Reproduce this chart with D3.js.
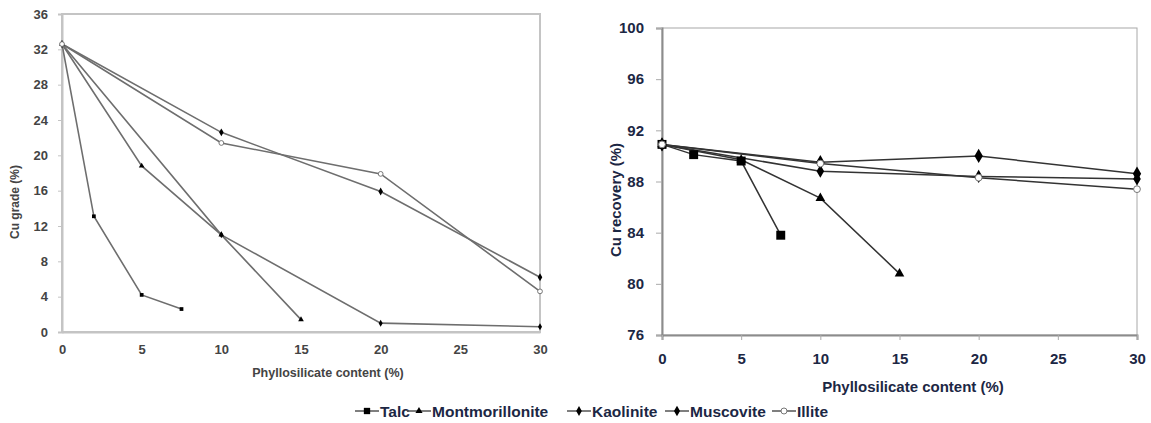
<!DOCTYPE html>
<html>
<head>
<meta charset="utf-8">
<script src="https://cdn.jsdelivr.net/npm/d3@7"></script>
<style>
  html, body { margin: 0; padding: 0; background: #fff; }
  svg { display: block; }
</style>
</head>
<body>
<svg id="chart" width="1151" height="423"></svg>
<script>
// ---------- data ----------
const seriesNames = ["Talc", "Montmorillonite", "Kaolinite", "Muscovite", "Illite"];
const xTalc = [0, 2, 5, 7.5];
const xMont = [0, 5, 10, 15];
const xKao  = [0, 10, 20, 30];
const xMus  = [0, 10, 20, 30];
const xIll  = [0, 10, 20, 30];

const gradeTalc = [32.6, 13.1, 4.2, 2.6];
const gradeMont = [32.6, 18.8, 11.0, 1.4];
const gradeKao  = [32.6, 11.0, 1.0, 0.6];
const gradeMus  = [32.6, 22.6, 15.9, 6.2];
const gradeIll  = [32.6, 21.4, 17.9, 4.6];

const recTalc = [90.9, 90.1, 89.6, 83.8];
const recMont = [90.9, 89.7, 86.7, 80.8];
const recKao  = [90.9, 88.8, 88.4, 88.2];
const recMus  = [90.9, 89.5, 90.0, 88.6];
const recIll  = [90.9, 89.4, 88.3, 87.4];

const xTicks = [0, 5, 10, 15, 20, 25, 30];
const gradeTicks = [0, 4, 8, 12, 16, 20, 24, 28, 32, 36];
const recTicks = [76, 80, 84, 88, 92, 96, 100];

const xs = [xTalc, xMont, xKao, xMus, xIll];
const grades = [gradeTalc, gradeMont, gradeKao, gradeMus, gradeIll];
const recs = [recTalc, recMont, recKao, recMus, recIll];

// ---------- styles ----------
const symbolTypes = [d3.symbolSquare, d3.symbolTriangle, d3.symbolDiamond, d3.symbolDiamond, d3.symbolCircle];
const symbolSizesR = [80, 40, 50, 60, 36];
const symbolSizesL = [14, 14, 14, 18, 18];
const navy = "#1c2744";

const svg = d3.select("#chart");

function makeSeries(g, x, y, sizes, lineColor, lineW, yData) {
  seriesNames.forEach((name, i) => {
    const pts = xs[i].map((xv, j) => [xv, yData[i][j]]);
    g.append("path")
      .datum(pts)
      .attr("fill", "none")
      .attr("stroke", lineColor)
      .attr("stroke-width", lineW)
      .attr("d", d3.line().x(d => x(d[0])).y(d => y(d[1])));
  });
  seriesNames.forEach((name, i) => {
    const pts = xs[i].map((xv, j) => [xv, yData[i][j]]);
    const open = name === "Illite";
    g.selectAll(null).data(pts).enter().append("path")
      .attr("transform", d => `translate(${x(d[0])},${y(d[1])})`)
      .attr("d", d3.symbol().type(symbolTypes[i]).size(sizes[i]))
      .attr("fill", open ? "#fff" : "#000")
      .attr("stroke", open ? "#777" : "none")
      .attr("stroke-width", 1);
  });
}

// ---------- left panel ----------
{
  const x = d3.scaleLinear().domain([0, 30]).range([62, 540]);
  const y = d3.scaleLinear().domain([0, 36]).range([332, 14]);
  const g = svg.append("g");
  g.append("rect").attr("x", 62).attr("y", 14).attr("width", 478).attr("height", 318)
    .attr("fill", "none").attr("stroke", "#c4c4c4").attr("stroke-width", 2);

  const ya = g.append("g").attr("transform", "translate(62,0)")
    .call(d3.axisLeft(y).tickValues(gradeTicks).tickSize(4).tickPadding(10));
  const xa = g.append("g").attr("transform", "translate(0,332)")
    .call(d3.axisBottom(x).tickValues(xTicks).tickSize(0).tickPadding(13));
  [ya, xa].forEach(a => {
    a.select(".domain").attr("stroke", "#c4c4c4").attr("stroke-width", 2);
    a.selectAll(".tick line").attr("stroke", "#c4c4c4");
    a.selectAll("text").attr("font-family", "Liberation Sans, Arial, sans-serif")
      .attr("font-size", 13).attr("font-weight", "bold").attr("fill", "#444");
  });
  g.append("text").attr("x", 328).attr("y", 377).attr("text-anchor", "middle")
    .attr("font-family", "Liberation Sans, Arial, sans-serif").attr("font-size", 12.5)
    .attr("font-weight", "bold").attr("fill", "#444").text("Phyllosilicate content (%)");
  g.append("text").attr("transform", "translate(19,202) rotate(-90)").attr("text-anchor", "middle")
    .attr("font-family", "Liberation Sans, Arial, sans-serif").attr("font-size", 12)
    .attr("font-weight", "bold").attr("fill", "#444").text("Cu grade (%)");

  makeSeries(g, x, y, symbolSizesL, "#6e6e6e", 1.6, grades);
}

// ---------- right panel ----------
{
  const x = d3.scaleLinear().domain([0, 30]).range([662, 1137]);
  const y = d3.scaleLinear().domain([76, 100]).range([335, 28]);
  const g = svg.append("g");
  g.append("rect").attr("x", 662).attr("y", 28).attr("width", 475).attr("height", 307)
    .attr("fill", "none").attr("stroke", "#a8a8a8").attr("stroke-width", 1);

  const ya = g.append("g").attr("transform", "translate(662,0)")
    .call(d3.axisLeft(y).tickValues(recTicks).tickSize(6).tickPadding(12));
  const xa = g.append("g").attr("transform", "translate(0,335)")
    .call(d3.axisBottom(x).tickValues(xTicks).tickSize(5).tickPadding(13));
  [ya, xa].forEach(a => {
    a.select(".domain").attr("stroke", "#8c8c8c").attr("stroke-width", 2);
    a.selectAll(".tick line").attr("stroke", "#aaa");
    a.selectAll("text").attr("font-family", "Liberation Sans, Arial, sans-serif")
      .attr("font-size", 15).attr("font-weight", "bold").attr("fill", navy);
  });
  g.append("text").attr("x", 913).attr("y", 392).attr("text-anchor", "middle")
    .attr("font-family", "Liberation Sans, Arial, sans-serif").attr("font-size", 15)
    .attr("font-weight", "bold").attr("fill", navy).text("Phyllosilicate content (%)");
  g.append("text").attr("transform", "translate(621,200) rotate(-90)").attr("text-anchor", "middle")
    .attr("font-family", "Liberation Sans, Arial, sans-serif").attr("font-size", 15)
    .attr("font-weight", "bold").attr("fill", navy).text("Cu recovery (%)");

  makeSeries(g, x, y, symbolSizesR, "#333", 1.5, recs);
}

// ---------- legend ----------
{
  const legendX = [355, 407, 567, 665, 772];
  const lg = svg.append("g");
  const ly = 411;
  const legendSizes = [40, 22, 28, 32, 28];
  seriesNames.forEach((name, i) => {
    const x0 = legendX[i];
    lg.append("line").attr("x1", x0).attr("x2", x0 + 24).attr("y1", ly).attr("y2", ly)
      .attr("stroke", "#555").attr("stroke-width", 1.5);
    lg.append("path").attr("transform", `translate(${x0 + 12},${ly})`)
      .attr("d", d3.symbol().type(symbolTypes[i]).size(legendSizes[i]))
      .attr("fill", name === "Illite" ? "#fff" : "#000")
      .attr("stroke", name === "Illite" ? "#777" : "none");
    lg.append("text").attr("x", x0 + 25).attr("y", ly + 5.5)
      .attr("font-family", "Liberation Sans, Arial, sans-serif").attr("font-size", 15.5)
      .attr("font-weight", "bold").attr("fill", navy).text(name);
  });
}
</script>
</body>
</html>
